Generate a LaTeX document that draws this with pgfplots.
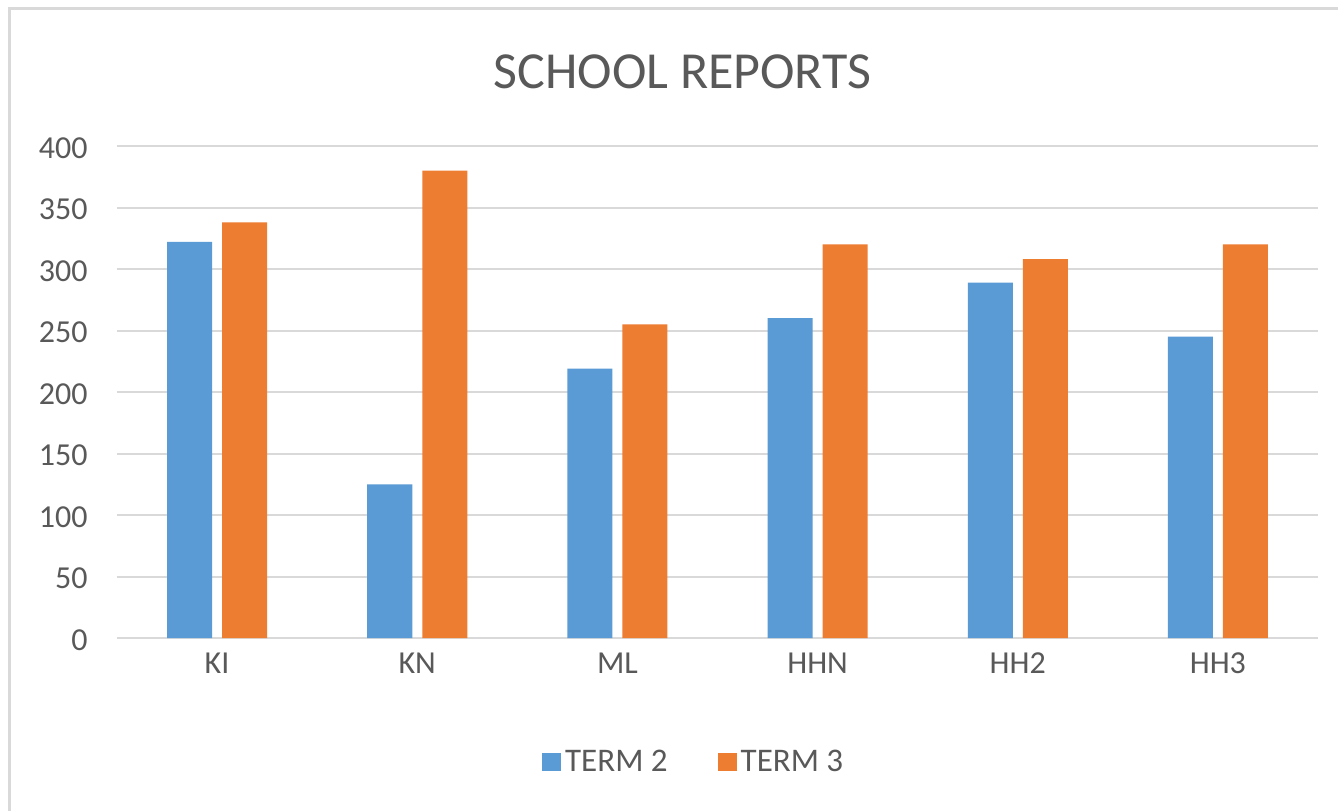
\documentclass[border=0pt]{standalone}
\usepackage{fontspec}
\setmainfont{Carlito}
\usepackage{pgfplots}
\pgfplotsset{compat=1.18}
\definecolor{tblue}{HTML}{5B9BD5}
\definecolor{torange}{HTML}{ED7D31}
\definecolor{tgrid}{HTML}{D9D9D9}
\definecolor{ttext}{HTML}{595959}
\begin{document}
\begin{tikzpicture}
\useasboundingbox (0,0) rectangle (669pt,405pt);
\fill[white] (0,0) rectangle (669pt,405pt);
\draw[tgrid, line width=1.5pt] (4.5pt,-10pt) -- (4.5pt,400.5pt) -- (680pt,400.5pt);
\begin{axis}[
  at={(58.5pt,86pt)}, anchor=south west,
  scale only axis, width=600.5pt, height=246pt,
  ymin=0, ymax=400, ytick={0,50,...,400},
  xmin=-0.5, xmax=5.5, xtick=data, xticklabels={KI,KN,ML,HHN,HH2,HH3},
  ybar=5pt, bar width=22.5pt,
  axis line style={draw=none},
  major tick length=0pt,
  ymajorgrids, grid style={tgrid, line width=1pt},
  /pgf/number format/assume math mode=true,
  tick label style={font=\fontsize{16}{19}\selectfont, text=ttext},
  yticklabel style={anchor=east, inner sep=0pt, xshift=-14.5pt, yshift=-1pt},
  xticklabel style={anchor=base, inner sep=0pt, yshift=-17.5pt},
  title={SCHOOL REPORTS},
  title style={at={(0.471,1.126)}, anchor=center, font=\fontsize{26}{30}\selectfont, text=ttext},
  legend style={at={(0.481,-0.252)}, anchor=center, draw=none, fill=none,
    legend columns=2, font=\fontsize{16.5}{19}\selectfont, text=ttext,
    /tikz/every even column/.append style={column sep=23pt}},
  legend image code/.code={\fill[#1] (0pt,-4.5pt) rectangle (9.5pt,4.5pt);},
]
\addplot[fill=tblue, draw=none] coordinates {(0,322) (1,125) (2,219) (3,260) (4,289) (5,245)};
\addlegendentry{TERM 2}
\addplot[fill=torange, draw=none] coordinates {(0,338) (1,380) (2,255) (3,320) (4,308) (5,320)};
\addlegendentry{TERM 3}
\end{axis}
\end{tikzpicture}
\end{document}
